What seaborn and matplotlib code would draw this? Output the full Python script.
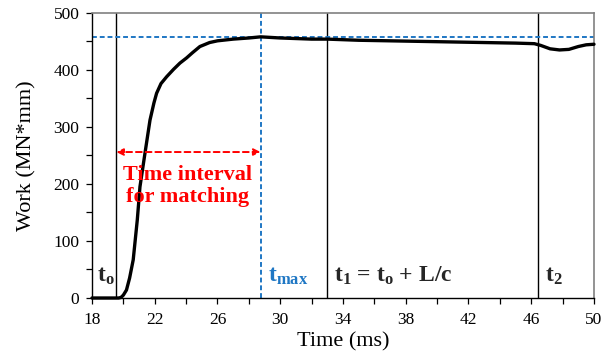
import numpy as np
import pandas as pd
import matplotlib
matplotlib.use("Agg")
import matplotlib.pyplot as plt
from matplotlib.ticker import MultipleLocator
import seaborn as sns

# Work history recorded during the impact event
time_ms = [18.0, 19.5, 19.7, 19.85, 20.0, 20.2, 20.4, 20.63, 20.89, 21.06,
           21.38, 21.7, 21.95, 22.12, 22.4, 22.76, 23.2, 23.61, 24.03, 24.4,
           24.88, 25.5, 26.0, 27.0, 28.0, 28.75, 30.0, 31.0, 32.0, 33.0,
           35.0, 37.0, 39.0, 41.0, 43.0, 45.0, 46.2, 46.6, 47.2, 47.8,
           48.4, 49.0, 49.5, 50.0]
work = [0, 0, 0, 1, 5, 14, 35, 67, 137, 195,
        254, 312, 342, 359, 376, 388, 401, 412, 421, 430,
        441, 448, 451, 454, 456, 458, 456, 455, 454, 454,
        452, 451, 450, 449, 448, 447, 446, 443, 437, 435,
        436, 441, 444, 445]

# Characteristic instants (ms) and peak work level
t_o = 19.55
t_max = 28.75
t_1 = 32.95
t_2 = 46.45
work_max = 457

x_ticks = [18, 22, 26, 30, 34, 38, 42, 46, 50]
y_ticks = [0, 100, 200, 300, 400, 500]

df = pd.DataFrame({"Time (ms)": time_ms, "Work (MN*mm)": work})

sns.set_theme(style="ticks")
plt.rcParams["font.family"] = ["Liberation Serif", "DejaVu Serif"]
plt.rcParams["mathtext.fontset"] = "custom"
plt.rcParams["mathtext.rm"] = "Liberation Serif"
plt.rcParams["mathtext.it"] = "Liberation Serif:italic"
plt.rcParams["mathtext.bf"] = "Liberation Serif:bold"

fig = plt.figure(figsize=(6.13, 3.58), dpi=100)
ax = fig.add_axes([0.150, 0.1676, 0.819, 0.7964])

# reference markers
for t in (t_o, t_1, t_2):
    ax.axvline(t, color="black", lw=1.0, zorder=1)
ax.axvline(t_max, color="#1f77c4", lw=1.4, ls=(0, (2.5, 1.5)), zorder=1)
ax.axhline(work_max, color="#1f77c4", lw=1.4, ls=(0, (2.5, 1.5)), zorder=1)

sns.lineplot(data=df, x="Time (ms)", y="Work (MN*mm)", ax=ax,
             color="black", lw=2.4, zorder=3, clip_on=False)

ax.set_xlim(18, 50)
ax.set_ylim(0, 500)
ax.set_xticks(x_ticks)
ax.set_yticks(y_ticks)
ax.xaxis.set_minor_locator(MultipleLocator(2))
ax.yaxis.set_minor_locator(MultipleLocator(50))
ax.tick_params(which="both", direction="out", length=4, width=0.9,
               color="black", labelsize=12.5, labelcolor="black")
ax.tick_params(axis="x", pad=6)
ax.tick_params(axis="y", pad=5)
ax.set_xlabel("Time (ms)", fontsize=16, labelpad=3, color="black")
ax.set_ylabel("Work (MN*mm)", fontsize=16, labelpad=12, color="black")

for side in ("left", "bottom"):
    ax.spines[side].set_color("black")
    ax.spines[side].set_linewidth(1.0)
for side in ("top", "right"):
    ax.spines[side].set_visible(True)
    ax.spines[side].set_color("#808080")
    ax.spines[side].set_linewidth(1.2)

# matching interval arrow
ax.annotate("", xy=(t_o, 256), xytext=(t_max, 256),
            arrowprops=dict(arrowstyle="<|-|>", color="red", lw=1.4,
                            ls=(0, (3, 2)), mutation_scale=10,
                            shrinkA=0, shrinkB=0))
ax.text(24.12, 196, "Time interval\nfor matching",
        color="red", fontsize=16, fontweight="bold", ha="center",
        va="center", linespacing=1.15)

ax.text(18.3, 28, r"$\mathbf{t_o}$", fontsize=17, ha="left", va="baseline")
ax.text(t_max + 0.45, 28, r"$\mathbf{t_{max}}$", fontsize=17,
        color="#1f77c4", ha="left", va="baseline")
ax.text(t_1 + 0.5, 28, r"$\mathbf{t_1}$ = $\mathbf{t_o}$ + L/c", fontsize=17,
        fontweight="bold", ha="left", va="baseline")
ax.text(t_2 + 0.45, 28, r"$\mathbf{t_2}$", fontsize=17,
        ha="left", va="baseline")

fig.savefig("out.png", dpi=100, facecolor="white")
